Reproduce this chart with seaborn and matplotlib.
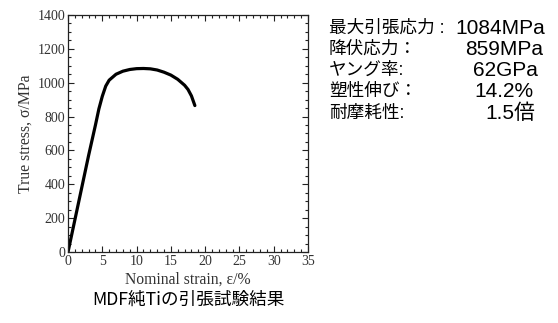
import matplotlib
matplotlib.use("Agg")
import matplotlib.pyplot as plt
from matplotlib.ticker import MultipleLocator
import seaborn as sns
import pandas as pd

# Data
strain = [0, 1, 2, 3, 4, 4.5, 5, 5.5, 6, 7, 8, 9, 10, 11, 12, 13, 14, 15, 16, 17, 17.5, 18, 18.5]
stress = [0, 190, 380, 570, 750, 845, 920, 980, 1015, 1050, 1068, 1078, 1083, 1084, 1082, 1075, 1062, 1045, 1020, 985, 960, 922, 865]
x_ticks = [0, 5, 10, 15, 20, 25, 30, 35]
y_ticks = [0, 200, 400, 600, 800, 1000, 1200, 1400]
prop_labels = ["最大引張応力 :", "降伏応力：", "ヤング率:", "塑性伸び：", "耐摩耗性:"]
prop_values = ["1084MPa", "859MPa", "62GPa", "14.2%", "1.5倍"]
caption = "MDF純Tiの引張試験結果"

sns.set_theme(style="ticks")
plt.rcParams['font.family'] = ['Liberation Serif', 'DejaVu Serif']

df = pd.DataFrame({"strain": strain, "stress": stress})

fig = plt.figure(figsize=(5.58, 3.23), dpi=100)
ax = fig.add_axes([0.1219, 0.2198, 0.4301, 0.7338])
sns.lineplot(data=df, x="strain", y="stress", ax=ax, color="black", linewidth=2.3, sort=False)

ax.set_xlim(0, 35)
ax.set_ylim(0, 1400)
ax.set_xticks(x_ticks)
ax.set_yticks(y_ticks)
ax.set_xticklabels([str(t) for t in x_ticks])
ax.set_yticklabels([str(t) for t in y_ticks])
ax.xaxis.set_minor_locator(MultipleLocator(1))
ax.yaxis.set_minor_locator(MultipleLocator(50))
ax.tick_params(which="both", direction="in", top=True, right=True, width=0.8, colors="#222222")
ax.tick_params(which="major", length=4, labelsize=10, pad=2, labelcolor="#333333")
ax.tick_params(which="minor", length=2)
for s in ax.spines.values():
    s.set_linewidth(0.9)
    s.set_color("#222222")
ax.set_xlabel("Nominal strain, ε/%", fontsize=11.3, labelpad=3, color="#333333")
ax.set_ylabel("True stress, σ/MPa", fontsize=11.3, labelpad=3, color="#333333")

jp = ['Noto Sans CJK JP', 'DejaVu Sans']
mix = ['Liberation Sans', 'Noto Sans CJK JP', 'DejaVu Sans']
fig.text(188/558, 1 - 300/323, caption, family=jp, fontsize=12.7, ha="center", va="center", color="black")

y_positions = [28, 49.5, 70.5, 91.5, 113]
x_right = [545, 543, 538, 533, 535]
for lab, val, yp, xr in zip(prop_labels, prop_values, y_positions, x_right):
    fig.text(329/558, 1 - yp/323, lab, family=mix, fontsize=12.7, ha="left", va="center", color="black")
    fig.text(xr/558, 1 - yp/323, val, family=mix, fontsize=15, ha="right", va="center", color="black")

fig.savefig("out.png", dpi=100)
